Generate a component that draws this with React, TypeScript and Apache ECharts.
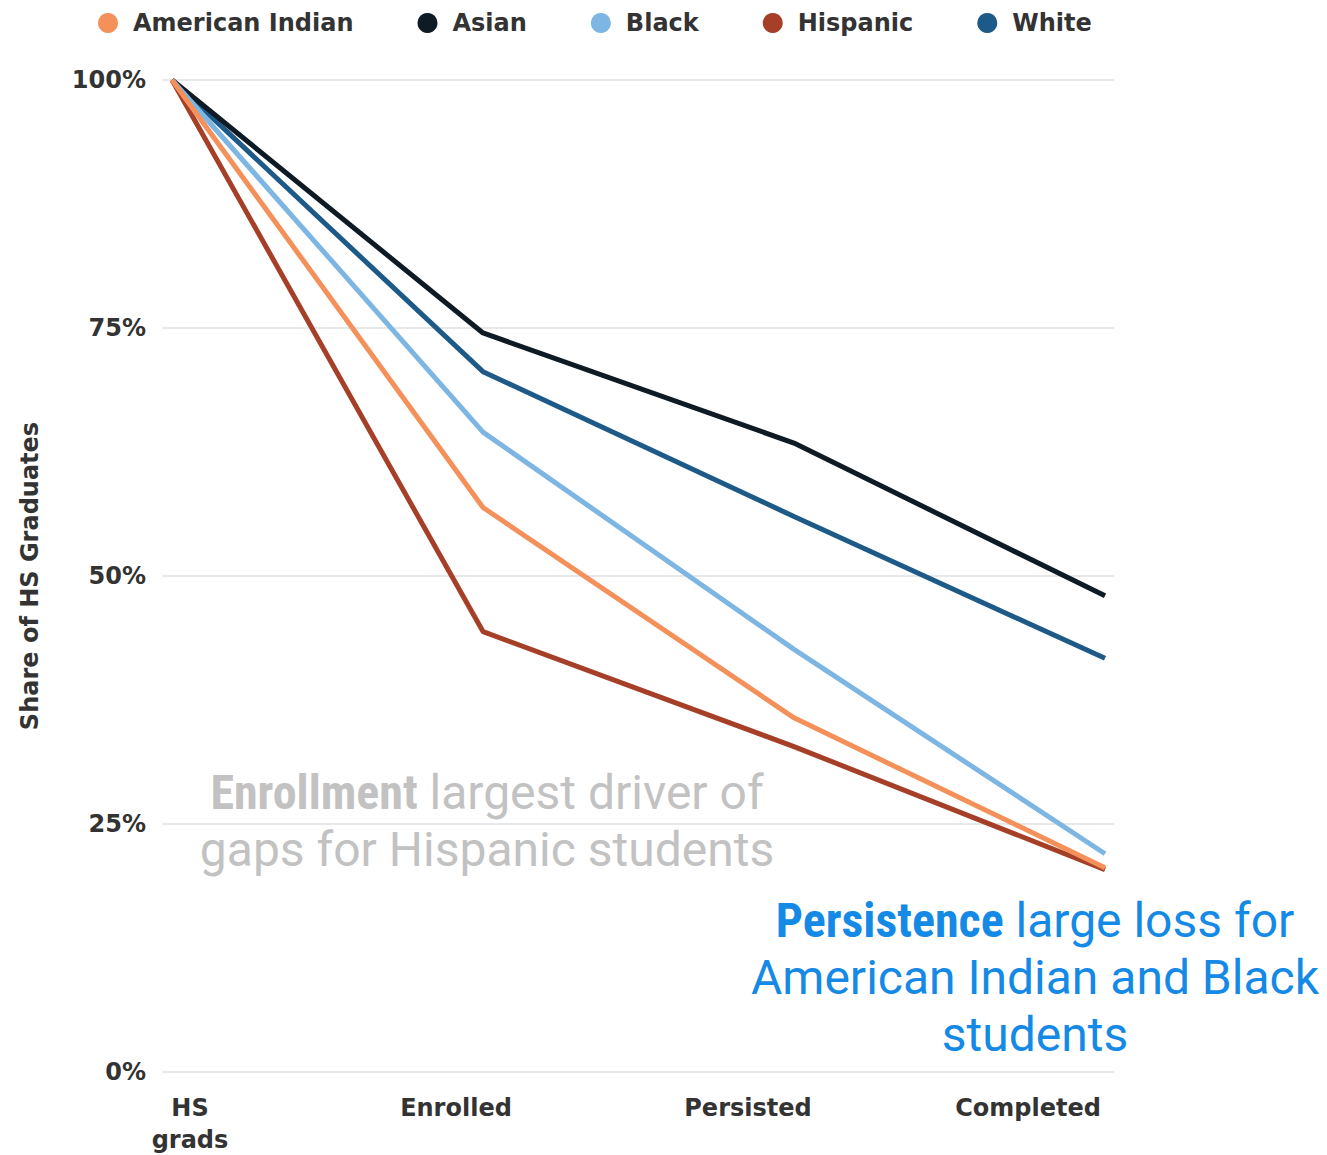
import React, { useEffect, useRef } from "react";
import * as echarts from "echarts";

const categories = ["HS grads", "Enrolled", "Persisted", "Completed"];
const seriesNames = ["American Indian", "Asian", "Black", "Hispanic", "White"];
const americanIndian = [100, 56.9, 35.7, 20.6];
const asian = [100, 74.5, 63.4, 48.0];
const black = [100, 64.5, 42.6, 22.0];
const hispanic = [100, 44.4, 32.8, 20.4];
const white = [100, 70.6, 56.0, 41.7];
const yTickStep = 25;

const COLORS: Record<string, string> = {
  "American Indian": "#f4915a",
  Asian: "#0e1a24",
  Black: "#7db6e2",
  Hispanic: "#a63f27",
  White: "#1e5a88",
};

const AXIS_FONT = "'DejaVu Sans', sans-serif";
const TEXT_COLOR = "#333333";
const labelPads = [
  [0, 0, 0, 36],
  [0, 54, 0, 0],
  [0, 92, 0, 0],
  [0, 154, 0, 0],
];

export default function App() {
  const ref = useRef<HTMLDivElement>(null);
  useEffect(() => {
    if (!ref.current) return;
    const chart = echarts.init(ref.current, undefined, { renderer: "svg" });
    const dataMap: Record<string, number[]> = {
      "American Indian": americanIndian,
      Asian: asian,
      Black: black,
      Hispanic: hispanic,
      White: white,
    };
    const drawOrder = ["White", "Asian", "Black", "Hispanic", "American Indian"];
    const rich: Record<string, any> = {};
    labelPads.forEach((p, i) => {
      rich["l" + i] = {
        fontSize: 24,
        fontWeight: "bold",
        fontFamily: AXIS_FONT,
        color: TEXT_COLOR,
        lineHeight: 32,
        padding: p,
      };
    });
    chart.setOption({
      animation: false,
      backgroundColor: "#ffffff",
      legend: {
        data: seriesNames.map((n) => ({ name: n, icon: "circle" })),
        left: 93,
        top: 6,
        itemWidth: 30,
        itemHeight: 20,
        itemGap: 64,
        textStyle: {
          fontSize: 24,
          fontWeight: "bold",
          fontFamily: AXIS_FONT,
          color: TEXT_COLOR,
          padding: [0, 0, 0, 5],
        },
      },
      grid: [
        { left: 162, right: 213, top: 80, bottom: 83 },
        { left: 172, right: 222, top: 80, bottom: 83 },
      ],
      xAxis: [
        { gridIndex: 0, type: "value", min: 0, max: 1, show: false },
        {
          gridIndex: 1,
          type: "category",
          data: categories,
          boundaryGap: false,
          axisLine: { show: false },
          axisTick: { show: false },
          axisLabel: {
            interval: 0,
            margin: 20,
            formatter: (value: string, index: number) =>
              value
                .split(" ")
                .map((w) => `{l${index}|${w}}`)
                .join("\n"),
            rich,
          },
        },
      ],
      yAxis: [
        {
          gridIndex: 0,
          type: "value",
          min: 0,
          max: 100,
          interval: yTickStep,
          name: "Share of HS Graduates",
          nameLocation: "middle",
          nameGap: 120,
          nameTextStyle: {
            fontSize: 24,
            fontWeight: "bold",
            fontFamily: AXIS_FONT,
            color: TEXT_COLOR,
          },
          axisLine: { show: false },
          axisTick: { show: false },
          axisLabel: {
            formatter: (v: number) => v + "%",
            fontSize: 24,
            fontWeight: "bold",
            fontFamily: AXIS_FONT,
            color: TEXT_COLOR,
            margin: 16,
          },
          splitLine: { lineStyle: { color: "#e6e8ea", width: 2 } },
        },
        {
          gridIndex: 1,
          type: "value",
          min: 0,
          max: 100,
          show: false,
          splitLine: { show: false },
        },
      ],
      series: drawOrder.map((name) => ({
        name,
        type: "line",
        xAxisIndex: 1,
        yAxisIndex: 1,
        data: dataMap[name],
        symbol: "none",
        color: COLORS[name],
        lineStyle: { width: 5, color: COLORS[name] },
      })),
      graphic: [
        {
          type: "text",
          x: 487,
          y: 821,
          style: {
            text: "{b|Enrollment} largest driver of\ngaps for Hispanic students",
            align: "center",
            verticalAlign: "middle",
            fontSize: 48,
            fontFamily: "Roboto",
            lineHeight: 57,
            fill: "#c2c2c2",
            rich: {
              b: {
                fontSize: 48,
                fontWeight: "bold",
                fontFamily: "'Liberation Sans Narrow', 'Roboto Condensed', Roboto",
                lineHeight: 57,
                fill: "#c2c2c2",
              },
            },
          },
        },
        {
          type: "text",
          x: 1035,
          y: 977,
          style: {
            text: "{b|Persistence} large loss for\nAmerican Indian and Black\nstudents",
            align: "center",
            verticalAlign: "middle",
            fontSize: 48,
            fontFamily: "Roboto",
            lineHeight: 57,
            fill: "#1589e6",
            rich: {
              b: {
                fontSize: 48,
                fontWeight: "bold",
                fontFamily: "'Liberation Sans Narrow', 'Roboto Condensed', Roboto",
                lineHeight: 57,
                fill: "#1589e6",
              },
            },
          },
        },
      ],
    });
    return () => chart.dispose();
  }, []);
  return (
    <div
      ref={ref}
      style={{ position: "fixed", left: 0, top: 0, width: 1327, height: 1155, background: "#fff" }}
    />
  );
}
